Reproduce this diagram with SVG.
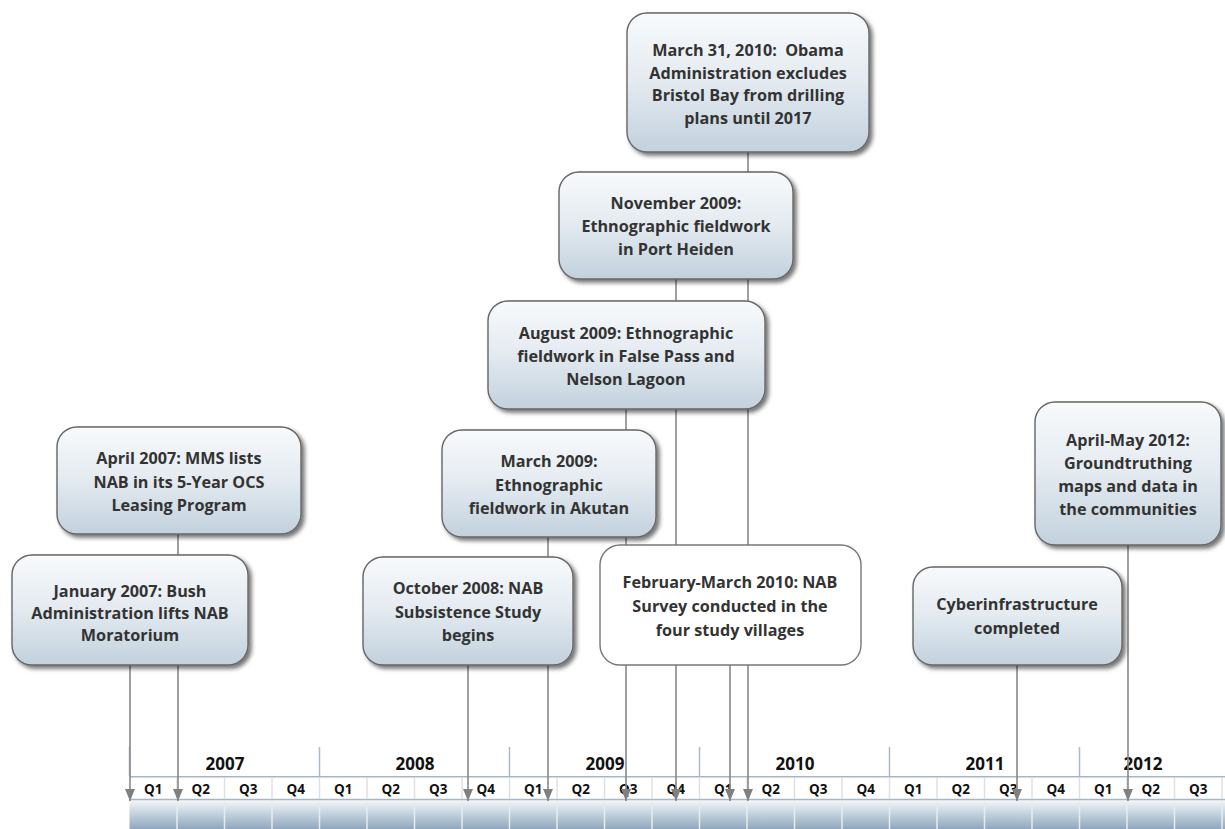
<svg xmlns="http://www.w3.org/2000/svg" width="1225" height="829" viewBox="0 0 1225 829">
<style>
.box{fill:url(#boxGrad);stroke:#666;stroke-width:1.4;filter:url(#shadow)}
.plain{fill:#fff;stroke:#777;stroke-width:1.4}
.lbl{font-family:"Open Sans","Noto Sans",sans-serif;font-weight:700;font-size:16.2px;fill:#333;text-anchor:middle}
.yr{font-family:"Open Sans","Noto Sans",sans-serif;font-weight:700;font-size:17px;fill:#111;text-anchor:middle}
.q{font-family:"Open Sans","Noto Sans",sans-serif;font-weight:700;font-size:13.5px;fill:#111;text-anchor:middle}
.conn{stroke:#888;stroke-width:1.6;fill:none;marker-end:url(#arrow)}
.hline{stroke:#a6b6c6;stroke-width:1.5}
.ydiv{stroke:#a9bacb;stroke-width:1.5}
.qdiv{stroke:#dde1e6;stroke-width:1.5}
.bdiv{stroke:#e8ebee;stroke-width:1.5}
.pre{white-space:pre}
</style>
<defs>
<linearGradient id="boxGrad" x1="0" y1="0" x2="0" y2="1">
<stop offset="0" stop-color="#f8fafc"/>
<stop offset="0.5" stop-color="#e3eaf0"/>
<stop offset="1" stop-color="#c2d1dd"/>
</linearGradient>
<linearGradient id="barGrad" x1="0" y1="0" x2="0" y2="1">
<stop offset="0" stop-color="#f5f7f9"/>
<stop offset="1" stop-color="#8ea7bf"/>
</linearGradient>
<filter id="shadow" x="-10%" y="-10%" width="125%" height="130%">
<feDropShadow dx="3" dy="3" stdDeviation="2" flood-color="#000" flood-opacity="0.55"/>
</filter>
<marker id="arrow" markerUnits="userSpaceOnUse" viewBox="0 -6 12 12" refX="12" refY="0" markerWidth="12" markerHeight="12" orient="auto">
<path d="M0,-5 L12,0 L0,5 Z" fill="#808080"/>
</marker>
</defs>

<g id="timeline">
<rect x="129.5" y="800" width="1100" height="29" fill="url(#barGrad)"/>
<line class="hline" x1="129.5" y1="776.7" x2="1225" y2="776.7"/>
<line class="hline" x1="129.5" y1="799.5" x2="1225" y2="799.5"/>
<g class="ydiv">
<line x1="129.5" y1="747" x2="129.5" y2="776"/>
<line x1="319.5" y1="747" x2="319.5" y2="776"/>
<line x1="509.5" y1="747" x2="509.5" y2="776"/>
<line x1="699.5" y1="747" x2="699.5" y2="776"/>
<line x1="889.5" y1="747" x2="889.5" y2="776"/>
<line x1="1079.5" y1="747" x2="1079.5" y2="776"/>
</g>
<g class="qdiv">
<line x1="177" y1="777.5" x2="177" y2="799"/><line x1="224.5" y1="777.5" x2="224.5" y2="799"/><line x1="272" y1="777.5" x2="272" y2="799"/><line x1="319.5" y1="777.5" x2="319.5" y2="799"/>
<line x1="367" y1="777.5" x2="367" y2="799"/><line x1="414.5" y1="777.5" x2="414.5" y2="799"/><line x1="462" y1="777.5" x2="462" y2="799"/><line x1="509.5" y1="777.5" x2="509.5" y2="799"/>
<line x1="557" y1="777.5" x2="557" y2="799"/><line x1="604.5" y1="777.5" x2="604.5" y2="799"/><line x1="652" y1="777.5" x2="652" y2="799"/><line x1="699.5" y1="777.5" x2="699.5" y2="799"/>
<line x1="747" y1="777.5" x2="747" y2="799"/><line x1="794.5" y1="777.5" x2="794.5" y2="799"/><line x1="842" y1="777.5" x2="842" y2="799"/><line x1="889.5" y1="777.5" x2="889.5" y2="799"/>
<line x1="937" y1="777.5" x2="937" y2="799"/><line x1="984.5" y1="777.5" x2="984.5" y2="799"/><line x1="1032" y1="777.5" x2="1032" y2="799"/><line x1="1079.5" y1="777.5" x2="1079.5" y2="799"/>
<line x1="1127" y1="777.5" x2="1127" y2="799"/><line x1="1174.5" y1="777.5" x2="1174.5" y2="799"/><line x1="1222" y1="777.5" x2="1222" y2="799"/>
</g>
<g class="bdiv">
<line x1="177" y1="800.5" x2="177" y2="829"/><line x1="224.5" y1="800.5" x2="224.5" y2="829"/><line x1="272" y1="800.5" x2="272" y2="829"/><line x1="319.5" y1="800.5" x2="319.5" y2="829"/>
<line x1="367" y1="800.5" x2="367" y2="829"/><line x1="414.5" y1="800.5" x2="414.5" y2="829"/><line x1="462" y1="800.5" x2="462" y2="829"/><line x1="509.5" y1="800.5" x2="509.5" y2="829"/>
<line x1="557" y1="800.5" x2="557" y2="829"/><line x1="604.5" y1="800.5" x2="604.5" y2="829"/><line x1="652" y1="800.5" x2="652" y2="829"/><line x1="699.5" y1="800.5" x2="699.5" y2="829"/>
<line x1="747" y1="800.5" x2="747" y2="829"/><line x1="794.5" y1="800.5" x2="794.5" y2="829"/><line x1="842" y1="800.5" x2="842" y2="829"/><line x1="889.5" y1="800.5" x2="889.5" y2="829"/>
<line x1="937" y1="800.5" x2="937" y2="829"/><line x1="984.5" y1="800.5" x2="984.5" y2="829"/><line x1="1032" y1="800.5" x2="1032" y2="829"/><line x1="1079.5" y1="800.5" x2="1079.5" y2="829"/>
<line x1="1127" y1="800.5" x2="1127" y2="829"/><line x1="1174.5" y1="800.5" x2="1174.5" y2="829"/><line x1="1222" y1="800.5" x2="1222" y2="829"/>
</g>
<text class="yr" x="225" y="769.5">2007</text>
<text class="yr" x="415" y="769.5">2008</text>
<text class="yr" x="605" y="769.5">2009</text>
<text class="yr" x="795" y="769.5">2010</text>
<text class="yr" x="985" y="769.5">2011</text>
<text class="yr" x="1143" y="769.5">2012</text>
<g class="q">
<text x="153.3" y="794">Q1</text><text x="200.8" y="794">Q2</text><text x="248.3" y="794">Q3</text><text x="295.8" y="794">Q4</text>
<text x="343.3" y="794">Q1</text><text x="390.8" y="794">Q2</text><text x="438.3" y="794">Q3</text><text x="485.8" y="794">Q4</text>
<text x="533.3" y="794">Q1</text><text x="580.8" y="794">Q2</text><text x="628.3" y="794">Q3</text><text x="675.8" y="794">Q4</text>
<text x="723.3" y="794">Q1</text><text x="770.8" y="794">Q2</text><text x="818.3" y="794">Q3</text><text x="865.8" y="794">Q4</text>
<text x="913.3" y="794">Q1</text><text x="960.8" y="794">Q2</text><text x="1008.3" y="794">Q3</text><text x="1055.8" y="794">Q4</text>
<text x="1103.3" y="794">Q1</text><text x="1150.8" y="794">Q2</text><text x="1198.3" y="794">Q3</text>
</g>
</g>

<g id="connectors">
<line class="conn" x1="130" y1="665" x2="130" y2="801"/>
<line class="conn" x1="178" y1="534" x2="178" y2="801"/>
<line class="conn" x1="468" y1="665" x2="468" y2="801"/>
<line class="conn" x1="548" y1="537" x2="548" y2="801"/>
<line class="conn" x1="626" y1="409" x2="626" y2="801"/>
<line class="conn" x1="676" y1="279" x2="676" y2="801"/>
<line class="conn" x1="730" y1="665" x2="730" y2="801"/>
<line class="conn" x1="748" y1="152" x2="748" y2="801"/>
<line class="conn" x1="1017" y1="665" x2="1017" y2="801"/>
<line class="conn" x1="1128" y1="545" x2="1128" y2="801"/>
</g>

<g id="node-obama-2010">
<rect class="box" x="627" y="13" width="242" height="139" rx="20"/>
<text class="lbl pre" x="748" y="56">March 31, 2010:  Obama</text>
<text class="lbl" x="748" y="78.5">Administration excludes</text>
<text class="lbl" x="748" y="101">Bristol Bay from drilling</text>
<text class="lbl" x="748" y="123.5">plans until 2017</text>
</g>
<g id="node-nov-2009">
<rect class="box" x="559" y="172" width="234" height="107" rx="20"/>
<text class="lbl" x="676" y="209">November 2009:</text>
<text class="lbl" x="676" y="232">Ethnographic fieldwork</text>
<text class="lbl" x="676" y="255">in Port Heiden</text>
</g>
<g id="node-aug-2009">
<rect class="box" x="488" y="301" width="277" height="108" rx="20"/>
<text class="lbl" x="626" y="339">August 2009: Ethnographic</text>
<text class="lbl" x="626" y="362">fieldwork in False Pass and</text>
<text class="lbl" x="626" y="385">Nelson Lagoon</text>
</g>
<g id="node-mar-2009">
<rect class="box" x="442" y="430" width="214" height="107" rx="20"/>
<text class="lbl" x="549" y="467">March 2009:</text>
<text class="lbl" x="549" y="490.5">Ethnographic</text>
<text class="lbl" x="549" y="514">fieldwork in Akutan</text>
</g>
<g id="node-apr-2007">
<rect class="box" x="57" y="427" width="244" height="107" rx="20"/>
<text class="lbl" x="179" y="464">April 2007: MMS lists</text>
<text class="lbl" x="179" y="487.5">NAB in its 5-Year OCS</text>
<text class="lbl" x="179" y="511">Leasing Program</text>
</g>
<g id="node-jan-2007">
<rect class="box" x="12" y="555" width="236" height="110" rx="20"/>
<text class="lbl" x="130" y="597">January 2007: Bush</text>
<text class="lbl" x="130" y="619">Administration lifts NAB</text>
<text class="lbl" x="130" y="641">Moratorium</text>
</g>
<g id="node-oct-2008">
<rect class="box" x="363" y="557" width="210" height="108" rx="20"/>
<text class="lbl" x="468" y="594">October 2008: NAB</text>
<text class="lbl" x="468" y="617.5">Subsistence Study</text>
<text class="lbl" x="468" y="641">begins</text>
</g>
<g id="node-febmar-2010">
<rect class="plain" x="600" y="545" width="261" height="120" rx="20"/>
<text class="lbl" x="730" y="588">February-March 2010: NAB</text>
<text class="lbl" x="730" y="612">Survey conducted in the</text>
<text class="lbl" x="730" y="636">four study villages</text>
</g>
<g id="node-cyber">
<rect class="box" x="913" y="567" width="209" height="98" rx="20"/>
<text class="lbl" x="1017" y="610">Cyberinfrastructure</text>
<text class="lbl" x="1017" y="634">completed</text>
</g>
<g id="node-aprmay-2012">
<rect class="box" x="1035" y="402" width="186" height="143" rx="20"/>
<text class="lbl" x="1128" y="446">April-May 2012:</text>
<text class="lbl" x="1128" y="469">Groundtruthing</text>
<text class="lbl" x="1128" y="492">maps and data in</text>
<text class="lbl" x="1128" y="515">the communities</text>
</g>
</svg>
